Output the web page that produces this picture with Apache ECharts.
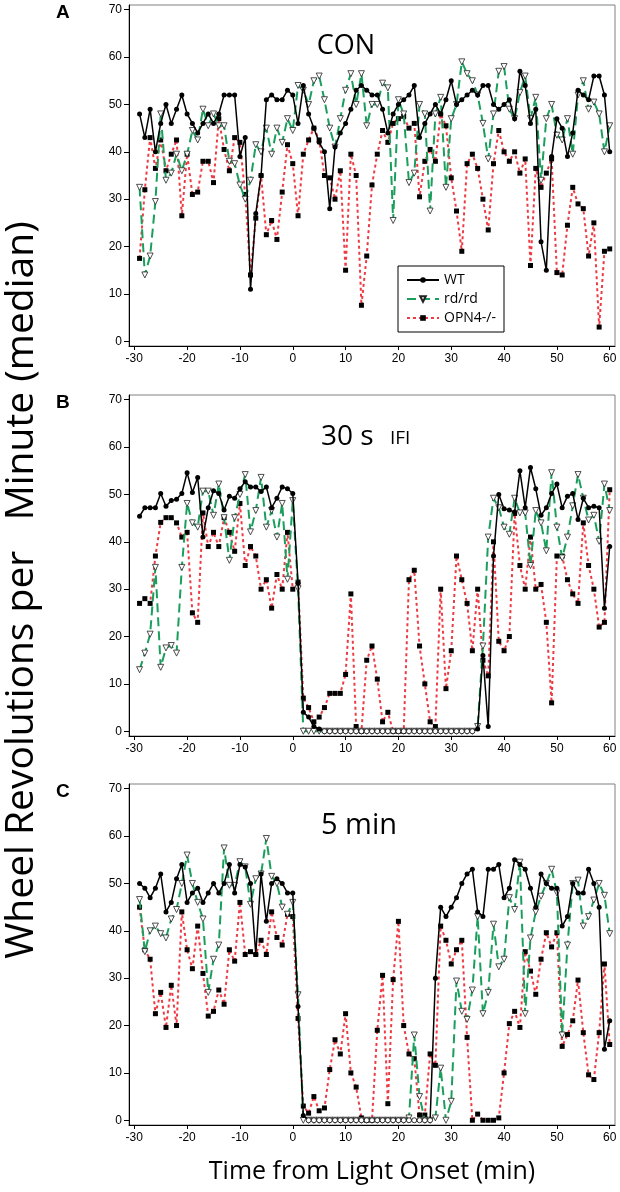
<!DOCTYPE html>
<html>
<head>
<meta charset="utf-8">
<script src="https://cdn.jsdelivr.net/npm/echarts@6/dist/echarts.min.js"></script>
<style>
html,body{margin:0;padding:0;background:#fff;}
#chart{width:620px;height:1192px;}
</style>
</head>
<body>
<div id="chart"></div>
<script>
// ---- data ----
const minutes = [-29,-28,-27,-26,-25,-24,-23,-22,-21,-20,-19,-18,-17,-16,-15,-14,-13,-12,-11,-10,
  -9,-8,-7,-6,-5,-4,-3,-2,-1,0,1,2,3,4,5,6,7,8,9,10,11,12,13,14,15,16,17,18,19,20,
  21,22,23,24,25,26,27,28,29,30,31,32,33,34,35,36,37,38,39,40,41,42,43,44,45,46,47,48,49,50,
  51,52,53,54,55,56,57,58,59,60];
const xTicks = [-30,-20,-10,0,10,20,30,40,50,60];
const yTicks = [0,10,20,30,40,50,60,70];
const seriesNames = ['WT','rd/rd','OPN4-/-'];
const panelTitles = ['CON','30 s','5 min'];
const panelLetters = ['A','B','C'];

// Panel A: CON
const conWT = [48,43,49,40,46,50,46,49,52,48,46,44,46,48,46,48,52,52,52,39,
  43,11,27,35,51,52,51,51,53,52,46,54,48,45,42,40,28,41,44,46,
  49,53,54,53,52,52,49,44,48,50,51,52,54,43,46,48,50,48,51,55,
  50,51,52,53,52,54,54,50,49,50,51,47,57,54,46,49,21,15,39,47,
  45,39,44,53,52,51,56,56,52,40];
const conRD = [32.5,14,18,29.5,48,34,35.5,39.5,36,39.5,44.5,42.5,49,45.5,48,45.5,45.5,38,37.5,33,
  30,34,41.5,40,45,39.5,45,42,47,44.5,54,53,50,55,56,51,45,41,47,53,
  56.5,50,56.5,45.5,50,50,54.5,53.5,25.5,51,48,33.5,35.5,50,48,27.5,48,51.5,32.5,47,
  50,59,56.5,55,52,46,38.5,48,57,58,49,47,52.5,56,47,51.5,34,47,50,43.5,
  42.5,47,39.5,52,55,49,50.5,48,40,45.5];
const conOPN = [17.5,32,43,36.5,42.5,36,39.5,42.5,26.5,39.5,31,31.5,38,38,33.5,47,40.5,36,43,42,
  31,14,26,35,22.5,25.5,21.5,31.5,41.5,37.5,26.5,39.5,42.5,45,42.5,35,34.5,30,36,15,
  39.5,35,7.6,18,33,39.5,44.5,42,46,47,47.5,45,46,30.5,38,40.5,38,48,45.5,34.5,
  27.5,19,37.5,39.5,36.5,30,23.5,37.5,44.5,40,38,40,35.5,38.5,16,36.5,32.5,35.5,38.5,14.5,
  14,24.5,32.5,29,28,18,25,3,19,19.5];

// Panel B: 30 s IFI
const ifiWT = [45.4,47.2,47.2,47.2,50.2,47.5,48.7,49,50.2,54.6,50.4,53.6,41,47.2,50.8,50.2,46.7,49.6,49.2,51.2,
  52.7,51.6,51.6,50.6,51.6,47.2,49.2,51.6,51.2,50.2,31.3,4,3,1,0.5,0,0,0,0,0,
  0,0,0,0,0,0,0,0,0,0,0,0,0,0,0,0,0,0,0,0,
  0,0,0,0,0.5,16,1,37,50,47,46.7,46.3,55,47.2,55.7,51.2,45.6,47.2,50.2,52.2,
  47.2,49.6,50.2,44.7,49.2,47.2,47.5,47.2,26,39];
const ifiRD = [13,16.5,20.5,34.6,13.5,17.6,18.1,16.5,34.6,48.1,44,43.1,50.7,50.7,45.6,52.2,45.1,36.1,45.1,50,
  54.2,42.1,46.6,53.6,43.1,46.6,41,48.1,32.1,48.7,30.1,0,0,0,0,0,0,0,0,0,
  0,0,0,0,0,0,0,0,0,0,0,0,0,0,0,0,0,0,0,0,
  0,0,0,0,1,18,41,49.2,47.2,43.1,41.6,49.2,46.1,46.1,35,46.6,44,38.1,54.6,43.1,
  36.6,41,47.6,54.2,49.2,44.6,45.6,40.1,52.2,46.6];
const ifiOPN = [27,28,27,37,44.1,45.1,45.1,44,41,42,25,23,46.1,39,42,39,45.1,42,38,48.1,
  35,39,37,30,32,26,33.1,30,42,30,31.5,7,5,2,3,5,8,8,8,12,
  29,1,0,15,18,11,2,4,0,0,0,32,34,18,10,2,1,30,9,17,
  37,32,27,17,30,15,11.7,40,19,17,20,46,35,30,41,30,31,23,6,37,
  37,32,29,27,44,35,30,22,23,51];

// Panel C: 5 min
const minWT = [50,49,47,49,52,44,46,51,54,46,48,49,46,48,50,48,50,54,48,54,
  53.5,50,35,52,42,50,51,50,48,48,24,1,0,0,0,0,0,0,0,0,
  0,0,0,0,0,0,0,0,0,0,0,0,0,0,0,0,30,45,43,45,
  47,50,52,53,44,43,53,53,54,47,49,55,54,53,49,45,52,50,49,49,
  41,43,50,48,48,53,50,45,15,21];
const minRD = [46.6,35.6,40,41,39.4,38.5,42.5,44.5,50,56,50,46,42.5,27,34,37,57.5,49.6,49.6,54.6,
  53.5,45.6,51,52,59.5,51.5,50,45,43.5,46,26.5,0,0,0,0,0,0,0,0,0,
  0,0,0,0,0,0,0,0,0,0,0,0.5,18,5,0,0,0.5,11,0,4,
  29.4,23,21.3,27.5,43,22.5,27,41.4,32.4,34,47,44.5,54.5,22.5,38.5,44,47.3,50,53,48,
  18,37,50,50.7,41,43,46.5,50,47.5,39.4];
const minOPN = [45,36,34,22.5,27,19.6,28.5,20,44,36,32,41,31,22,23,27.5,24.5,36,33.6,46,
  35,35.6,35,38,35,44,38.6,37,43.5,43,21.5,3,1.5,5,2,2.6,10.7,17,14,22.5,
  10,7,0.5,0,0,19,30.6,3.5,29.7,42,20,14,13,1.1,1.1,14,11.6,41,38,33,
  36,38,17.5,0,1.3,0,0,0,0.5,10,20.4,23,19.6,35.6,31.5,26.6,34,39.6,36.6,39.6,
  15.6,18.1,21,29.6,18.5,9.6,8.6,18.5,33,16];

const panels = [
  {wt: conWT, rd: conRD, opn: conOPN},
  {wt: ifiWT, rd: ifiRD, opn: ifiOPN},
  {wt: minWT, rd: minRD, opn: minOPN}
];

// ---- layout ----
const gridTops = [5, 395, 784];
const gridH = 341, gridLeft = 129, gridW = 486;
const GREEN = '#1a9e5c', RED = '#ee3b43';
const FONT = '"Liberation Sans", Arial, sans-serif';
const TFONT = '"Open Sans", "Liberation Sans", sans-serif';

const grids = [], xAxes = [], yAxes = [], series = [];
panels.forEach((p, i) => {
  grids.push({left: gridLeft, top: gridTops[i], width: gridW, height: gridH,
    show: true, borderColor: '#808080', borderWidth: 1, backgroundColor: 'transparent'});
  xAxes.push({type: 'value', gridIndex: i, min: -31, max: 61,
    axisLine: {onZero: false, lineStyle: {color: '#000', width: 1}},
    axisTick: {show: true, length: 4, customValues: xTicks, lineStyle: {color: '#000'}},
    axisLabel: {customValues: xTicks, color: '#000', fontSize: 12, fontFamily: FONT, margin: 7},
    splitLine: {show: false}});
  yAxes.push({type: 'value', gridIndex: i, min: -1, max: 71,
    axisLine: {show: true, onZero: false, lineStyle: {color: '#000', width: 1}},
    axisTick: {show: true, length: 5, customValues: yTicks, lineStyle: {color: '#000'}},
    axisLabel: {customValues: yTicks, color: '#000', fontSize: 12, fontFamily: FONT, margin: 7},
    splitLine: {show: false}});
  const toPts = (ys) => minutes.map((m, k) => [m, ys[k]]);
  series.push({name: 'OPN4-/-', type: 'line', xAxisIndex: i, yAxisIndex: i,
    data: toPts(p.opn), symbol: 'rect', symbolSize: 5, showAllSymbol: true,
    itemStyle: {color: '#000'}, lineStyle: {color: RED, width: 2, type: [3, 3]},
    z: 2, animation: false});
  series.push({name: 'rd/rd', type: 'line', xAxisIndex: i, yAxisIndex: i,
    data: toPts(p.rd), symbol: 'triangle', symbolRotate: 180, symbolSize: 6, showAllSymbol: true,
    itemStyle: {color: '#fff', borderColor: '#222', borderWidth: 0.8},
    lineStyle: {color: GREEN, width: 2, type: [9, 5]}, z: 3, animation: false});
  series.push({name: 'WT', type: 'line', xAxisIndex: i, yAxisIndex: i,
    data: minutes.map((m, k) => p.wt[k] === 0
      ? {value: [m, 0], itemStyle: {color: '#fff', borderColor: '#000', borderWidth: 0.8}}
      : [m, p.wt[k]]),
    symbol: 'circle', symbolSize: 5, showAllSymbol: true,
    itemStyle: {color: '#000'}, lineStyle: {color: '#000', width: 1.5}, z: 4, animation: false});
});

const graphics = [];
panelLetters.forEach((L, i) => {
  graphics.push({type: 'text', left: 56, top: gridTops[i] - 2,
    style: {text: L, font: 'bold 19px ' + FONT, fill: '#000'}});
});
graphics.push({type: 'text', x: 346, y: 46, style: {text: panelTitles[0], font: '27px ' + TFONT, fill: '#000', textAlign: 'center', textVerticalAlign: 'middle'}});
graphics.push({type: 'text', x: 321, y: 437, style: {text: panelTitles[1], font: '28px ' + TFONT, fill: '#000', textAlign: 'left', textVerticalAlign: 'middle'}});
graphics.push({type: 'text', x: 390, y: 439, style: {text: 'IFI', font: '19px ' + TFONT, fill: '#000', textAlign: 'left', textVerticalAlign: 'middle'}});
graphics.push({type: 'text', x: 321, y: 826, style: {text: panelTitles[2], font: '29px ' + TFONT, fill: '#000', textAlign: 'left', textVerticalAlign: 'middle'}});
graphics.push({type: 'text', x: 22, y: 590, rotation: Math.PI / 2,
  style: {text: 'Wheel Revolutions per   Minute (median)', font: '39px ' + TFONT, fill: '#000', textAlign: 'center', textVerticalAlign: 'middle'}});
graphics.push({type: 'text', x: 372, y: 1172,
  style: {text: 'Time from Light Onset (min)', font: '25px ' + TFONT, fill: '#000', textAlign: 'center', textVerticalAlign: 'middle'}});

const chart = echarts.init(document.getElementById('chart'), null, {renderer: 'canvas'});
chart.setOption({
  animation: false,
  backgroundColor: '#fff',
  grid: grids, xAxis: xAxes, yAxis: yAxes, series: series,
  legend: {data: seriesNames, orient: 'vertical', left: 398, top: 266,
    borderColor: '#000', borderWidth: 1, padding: [7, 8, 7, 8], itemGap: 5,
    itemWidth: 32, itemHeight: 7, selectedMode: false,
    textStyle: {fontSize: 14, fontFamily: TFONT, color: '#000'}},
  graphic: graphics
});
</script>
</body>
</html>
